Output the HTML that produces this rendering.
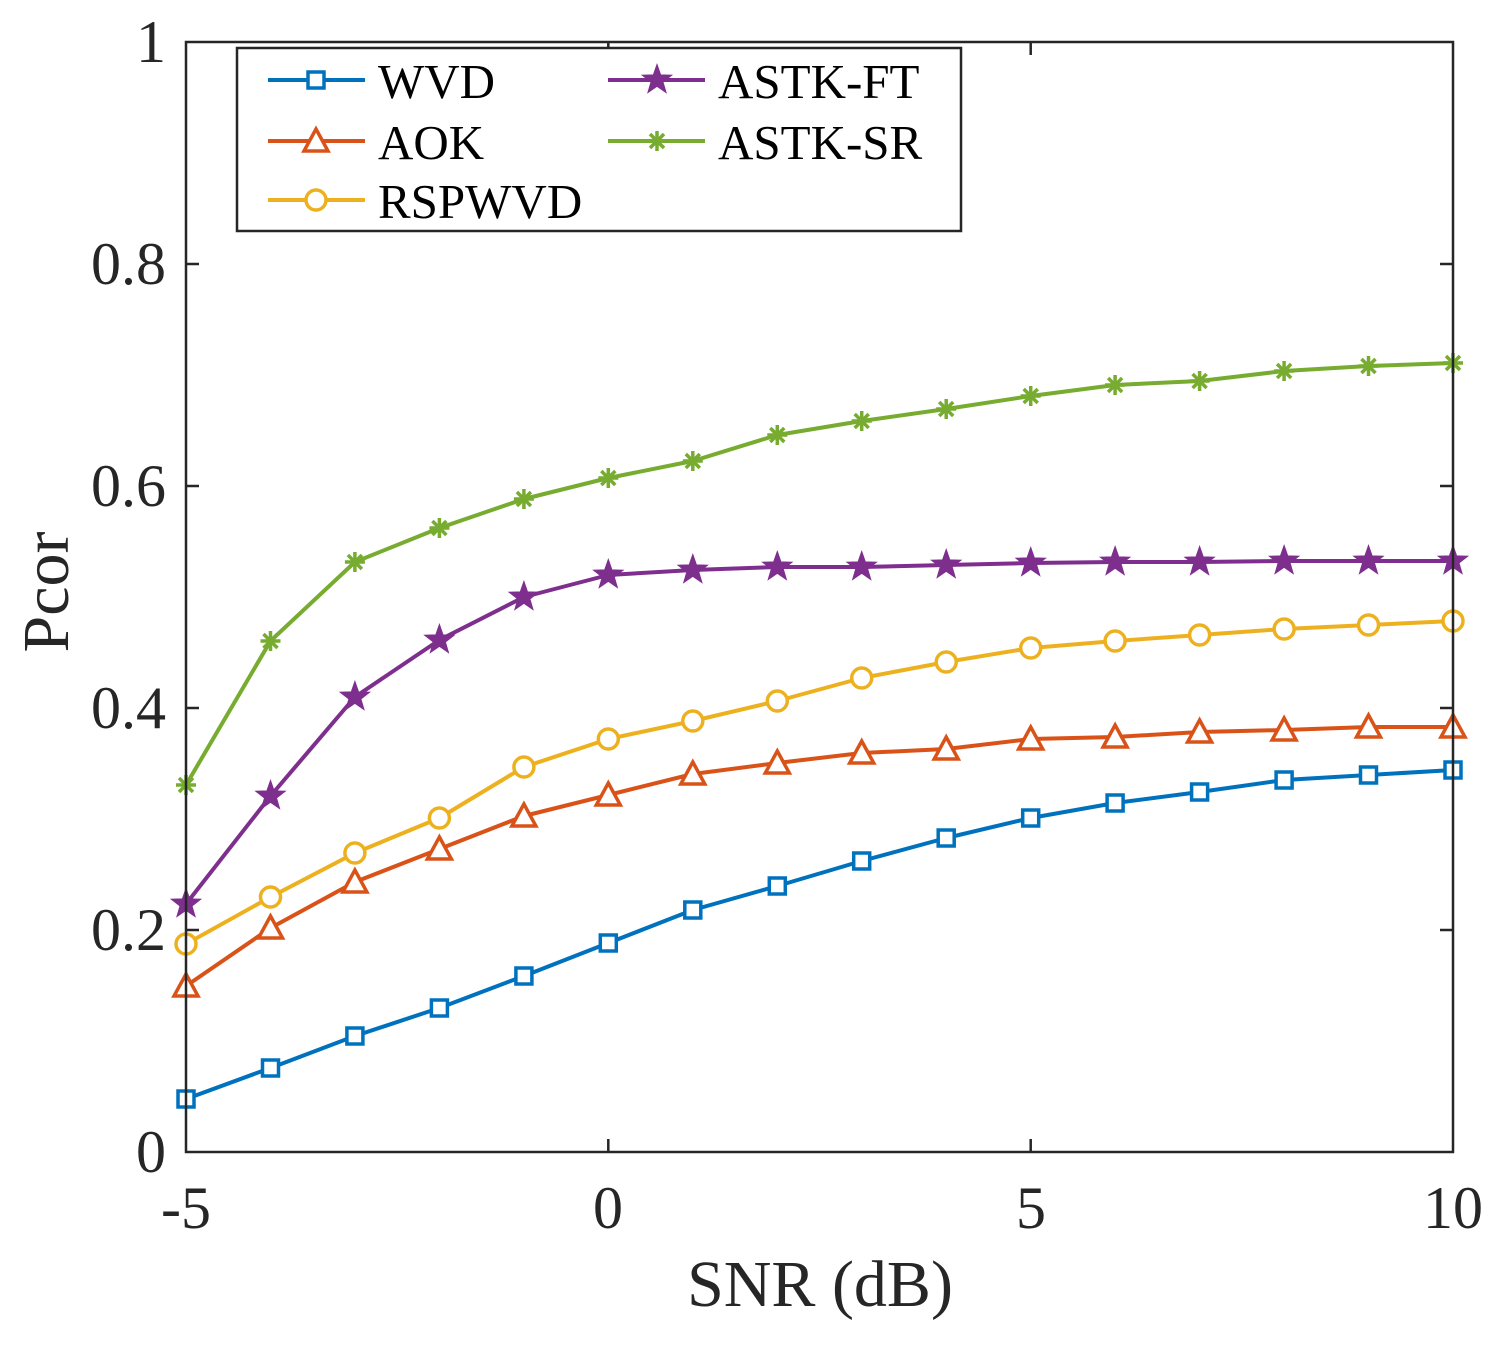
<!DOCTYPE html>
<html><head><meta charset="utf-8"><style>html,body{margin:0;padding:0;background:#fff}text{font-family:"Liberation Serif","Times New Roman",serif}</style></head>
<body>
<svg width="1503" height="1343" viewBox="0 0 1503 1343" xmlns="http://www.w3.org/2000/svg">
<defs>
<marker id="mS" markerUnits="userSpaceOnUse" markerWidth="24" markerHeight="24" refX="12" refY="12" overflow="visible"><rect x="4" y="4" width="16" height="16" fill="#fff" stroke="#0072BD" stroke-width="3.5"/></marker>
<marker id="mT" markerUnits="userSpaceOnUse" markerWidth="28" markerHeight="28" refX="14" refY="14" overflow="visible"><polygon points="14,2 26,24 2,24" fill="#fff" stroke="#D95319" stroke-width="3.5"/></marker>
<marker id="mC" markerUnits="userSpaceOnUse" markerWidth="26" markerHeight="26" refX="13" refY="13" overflow="visible"><circle cx="13" cy="13" r="10" fill="#fff" stroke="#EDB120" stroke-width="3.5"/></marker>
<marker id="mP" markerUnits="userSpaceOnUse" markerWidth="30" markerHeight="30" refX="15" refY="15" overflow="visible"><polygon points="15,1 18.3,10.4 28.3,10.7 20.4,16.8 23.2,26.3 15,20.7 6.8,26.3 9.6,16.8 1.7,10.7 11.7,10.4" fill="#7E2F8E" stroke="#7E2F8E" stroke-width="2"/></marker>
<marker id="mA" markerUnits="userSpaceOnUse" markerWidth="24" markerHeight="24" refX="12" refY="12" overflow="visible"><g stroke="#77AC30" stroke-width="3.5"><line x1="2" y1="12" x2="22" y2="12"/><line x1="12" y1="2" x2="12" y2="22"/><line x1="5" y1="5" x2="19" y2="19"/><line x1="5" y1="19" x2="19" y2="5"/></g></marker>
</defs>
<g fill="none" stroke-width="4" stroke-linejoin="round">
<polyline stroke="#0072BD" marker-start="url(#mS)" marker-mid="url(#mS)" marker-end="url(#mS)" points="186,1099 270.5,1068 354.9,1036 439.4,1008 523.9,976 608.3,943 692.8,910 777.3,886 861.7,861 946.2,838 1030.7,818 1115.1,803 1199.6,792 1284.1,780 1368.5,775 1453,770"/>
<polyline stroke="#D95319" marker-start="url(#mT)" marker-mid="url(#mT)" marker-end="url(#mT)" points="186,986 270.5,928 354.9,882 439.4,849 523.9,816 608.3,795 692.8,774 777.3,763 861.7,753 946.2,749 1030.7,739 1115.1,737 1199.6,732 1284.1,730 1368.5,727 1453,727"/>
<polyline stroke="#EDB120" marker-start="url(#mC)" marker-mid="url(#mC)" marker-end="url(#mC)" points="186,944 270.5,897 354.9,853 439.4,818 523.9,767 608.3,739 692.8,721 777.3,701 861.7,678 946.2,662 1030.7,648 1115.1,641 1199.6,635 1284.1,629 1368.5,625 1453,621"/>
<polyline stroke="#7E2F8E" marker-start="url(#mP)" marker-mid="url(#mP)" marker-end="url(#mP)" points="186,904 270.5,796 354.9,697 439.4,640 523.9,597 608.3,575 692.8,570 777.3,567 861.7,567 946.2,565 1030.7,563 1115.1,562 1199.6,562 1284.1,561 1368.5,561 1453,561"/>
<polyline stroke="#77AC30" marker-start="url(#mA)" marker-mid="url(#mA)" marker-end="url(#mA)" points="186,785 270.5,641 354.9,562 439.4,528 523.9,499 608.3,478 692.8,461 777.3,435 861.7,421 946.2,409 1030.7,396 1115.1,385 1199.6,381 1284.1,371 1368.5,366 1453,363"/>
</g>
<g stroke="#262626" stroke-width="2.5" fill="none">
<rect x="186" y="42" width="1267" height="1110"/>
<path d="M186,930h13M186,708h13M186,486h13M186,264h13M1453,930h-13M1453,708h-13M1453,486h-13M1453,264h-13M608.3,1152v-13M1030.7,1152v-13M608.3,42v13M1030.7,42v13"/>
</g>
<g font-size="60" fill="#262626" text-anchor="end">
<text x="166" y="1172">0</text><text x="166" y="950">0.2</text><text x="166" y="728">0.4</text><text x="166" y="506">0.6</text><text x="166" y="284">0.8</text><text x="166" y="62">1</text>
</g>
<g font-size="60" fill="#262626" text-anchor="middle">
<text x="186" y="1228">-5</text><text x="608" y="1228">0</text><text x="1031" y="1228">5</text><text x="1453" y="1228">10</text>
<text x="820" y="1306" font-size="66">SNR (dB)</text>
<text transform="translate(68,592) rotate(-90)" font-size="66">Pcor</text>
</g>
<rect x="237" y="48" width="724" height="183" fill="#fff" stroke="#262626" stroke-width="2.5"/>
<g>
<polyline points="268,80 316,80 365,80" fill="none" stroke="#0072BD" stroke-width="4" marker-mid="url(#mS)"/>
<polyline points="268,141 316,141 365,141" fill="none" stroke="#D95319" stroke-width="4" marker-mid="url(#mT)"/>
<polyline points="268,200 316,200 365,200" fill="none" stroke="#EDB120" stroke-width="4" marker-mid="url(#mC)"/>
<polyline points="608,80 657,80 705,80" fill="none" stroke="#7E2F8E" stroke-width="4" marker-mid="url(#mP)"/>
<polyline points="608,141 657,141 705,141" fill="none" stroke="#77AC30" stroke-width="4" marker-mid="url(#mA)"/>
</g>
<g font-size="49" fill="#000">
<text x="378" y="98">WVD</text><text x="378" y="159">AOK</text><text x="378" y="218">RSPWVD</text>
<text x="718" y="98">ASTK-FT</text><text x="718" y="159">ASTK-SR</text>
</g>
</svg>
</body></html>
